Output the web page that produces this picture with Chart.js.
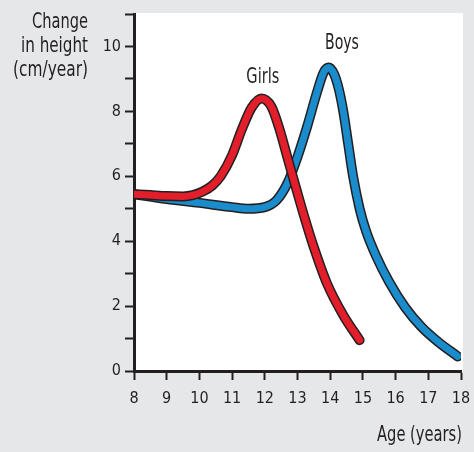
<!DOCTYPE html>
<html>
<head>
<meta charset="utf-8">
<script src="https://cdn.jsdelivr.net/npm/chart.js@4.4.1/dist/chart.umd.min.js"></script>
<style>
  html, body { margin: 0; padding: 0; background: #e6e7e9; }
</style>
</head>
<body>
<canvas id="myChart" width="474" height="452"></canvas>
<script>
// Data

const girlsAge = [8, 8.5, 9, 9.5, 9.8, 10.1, 10.4, 10.65, 11, 11.3, 11.6, 11.9, 12.2, 12.45, 12.7, 12.98, 13.2, 13.47, 13.9, 14.4, 14.9];
const girlsRate = [5.45, 5.42, 5.39, 5.38, 5.42, 5.53, 5.72, 6.0, 6.65, 7.45, 8.12, 8.4, 8.15, 7.45, 6.55, 5.55, 4.78, 3.9, 2.7, 1.72, 0.95];
const boysAge = [8, 9, 10, 11, 11.5, 12, 12.35, 12.7, 13, 13.3, 13.6, 13.8, 13.95, 14.12, 14.26, 14.4, 14.55, 14.7, 14.9, 15.1, 15.4, 15.8, 16.3, 16.8, 17.3, 17.9];
const boysRate = [5.45, 5.3, 5.18, 5.05, 5.0, 5.05, 5.25, 5.8, 6.6, 7.55, 8.6, 9.2, 9.35, 9.15, 8.7, 8.0, 7.0, 6.0, 5.0, 4.3, 3.55, 2.75, 1.95, 1.35, 0.9, 0.45];
const seriesNames = ["Girls", "Boys"];
const nameAge = [11.94, 14.36];
const nameRate = [8.86, 9.91];
const yTitle = ["Change", "in height", "(cm/year)"];
const xTitle = "Age (years)";

const ink = "#231f20";
const red = "#e31e2b";
const blue = "#1a8bcb";
const tickFont = "'DejaVu Sans Condensed', 'DejaVu Sans', sans-serif";
const textFont = "'DejaVu Sans', sans-serif";

const toPoints = (xs, ys) => xs.map((x, i) => ({ x: x, y: ys[i] }));

const line = (points, color, width) => ({
  data: points,
  borderColor: color,
  borderWidth: width,
  pointRadius: 0,
  cubicInterpolationMode: "monotone",
  borderCapStyle: "round",
  borderJoinStyle: "round",
  fill: false,
});

// squeeze text to a given width so it looks like the condensed face of the original
const fitText = (ctx, text, x, y, width, align) => {
  const w = ctx.measureText(text).width;
  const k = width / w;
  ctx.save();
  ctx.translate(x, y);
  ctx.scale(k, 1);
  ctx.textAlign = align;
  ctx.fillText(text, 0, 0);
  ctx.restore();
};

// Background, titles and series names

const decorations = {
  id: "decorations",
  beforeDraw(chart) {
    const { ctx, chartArea: a } = chart;
    ctx.save();
    ctx.fillStyle = "#e6e7e9";
    ctx.fillRect(0, 0, chart.width, chart.height);
    ctx.fillStyle = "#ffffff";
    ctx.fillRect(a.left, a.top - 1, a.right - a.left + 2, a.bottom - a.top + 1);
    ctx.restore();
  },
  afterDraw(chart) {
    const { ctx, scales } = chart;
    ctx.save();
    ctx.fillStyle = ink;
    ctx.textBaseline = "alphabetic";
    ctx.font = `21px ${textFont}`;
    const yWidths = [56, 67, 75];
    yTitle.forEach((t, i) => fitText(ctx, t, 88, 28 + i * 24, yWidths[i], "right"));
    ctx.font = `22px ${textFont}`;
    fitText(ctx, xTitle, 462, 441, 85, "right");
    const nameWidths = [33, 34];
    ctx.font = `21px ${textFont}`;
    seriesNames.forEach((name, i) => {
      fitText(ctx, name, scales.x.getPixelForValue(nameAge[i]), scales.y.getPixelForValue(nameRate[i]), nameWidths[i], "center");
    });
    ctx.restore();
  },
};

const config = {
  type: "line",
  data: {
    datasets: [
      line(toPoints(girlsAge, girlsRate), red, 7),
      line(toPoints(girlsAge, girlsRate), ink, 10),
      line(toPoints(boysAge, boysRate), blue, 7),
      line(toPoints(boysAge, boysRate), ink, 10),
    ],
  },
  options: {
    responsive: false,
    animation: false,
    layout: { padding: { top: 14, right: 13, left: 0, bottom: 0 } },
    plugins: { legend: { display: false }, tooltip: { enabled: false } },
    scales: {
      x: {
        type: "linear",
        min: 8,
        max: 18,
        afterFit: (s) => {
          s.height = 81;
          s.paddingLeft = 0;
          s.paddingRight = 0;
        },
        ticks: { stepSize: 1, color: ink, font: { family: tickFont, size: 16 }, padding: 9, maxRotation: 0 },
        grid: { drawOnChartArea: false, drawTicks: true, tickLength: 9, tickWidth: 2, tickColor: ink },
        border: { display: true, width: 3, color: ink },
      },
      y: {
        type: "linear",
        min: 0,
        max: 11,
        afterFit: (s) => {
          s.width = 134;
          s.paddingTop = 0;
          s.paddingBottom = 0;
        },
        ticks: {
          stepSize: 1,
          color: ink,
          font: { family: tickFont, size: 16 },
          padding: 4,
          callback: (v) => (v % 2 === 0 ? v : ""),
        },
        grid: { drawOnChartArea: false, drawTicks: true, tickLength: 9, tickWidth: 2, tickColor: ink },
        border: { display: true, width: 3, color: ink },
      },
    },
  },
  plugins: [decorations],
};

const myChart = new Chart(document.getElementById("myChart"), config);
</script>
</body>
</html>
